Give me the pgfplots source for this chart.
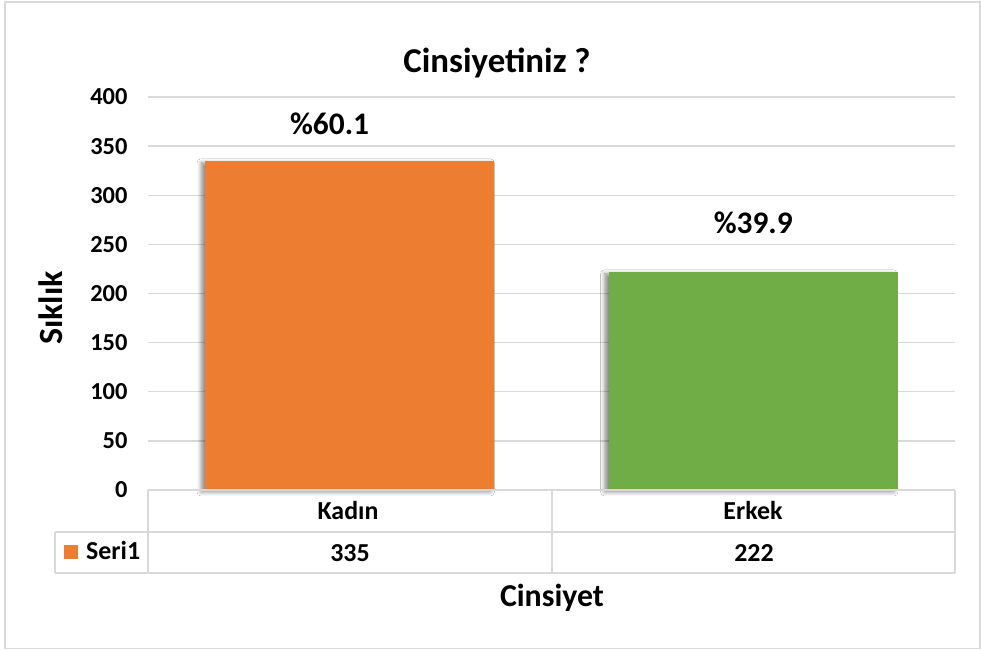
\documentclass[border=0pt]{standalone}
\usepackage{fontspec}
\setmainfont{Carlito}
\usepackage{pgfplots}
\pgfplotsset{compat=1.18}
\usetikzlibrary{shadows.blur}
\definecolor{orng}{HTML}{ED7D31}
\definecolor{grn}{HTML}{70AD47}
\definecolor{gridc}{HTML}{D9D9D9}
\begin{document}
\begin{tikzpicture}
\fill[white] (0bp,0bp) rectangle (981bp,650bp);
\draw[gridc, line width=1.5bp] (5bp,1.5bp) rectangle (980bp,648bp);
\begin{axis}[
  at={(148bp,160bp)}, anchor=south west,
  scale only axis, width=807bp, height=393bp,
  xmin=-0.5, xmax=1.5, ymin=0, ymax=400,
  ytick={0,50,...,400}, xtick=\empty,
  ymajorgrids, grid style={gridc, line width=1.3bp},
  axis line style={draw=none}, major tick length=0pt,
  tick label style={font=\bfseries\fontsize{24.5}{24.5}\selectfont},
  /pgf/number format/assume math mode=true,
  yticklabel style={anchor=east, xshift=-17bp},
  clip=false,
  ybar, bar width=0.717, bar shift=0pt,
]
\addplot[fill=orng, draw=none, bar shift=0pt, blur shadow={shadow xshift=-4bp, shadow yshift=-2bp, shadow blur steps=6, shadow opacity=45, shadow blur radius=4bp}] coordinates {(0,335)};
\addplot[fill=grn, draw=none, bar shift=0pt, blur shadow={shadow xshift=-4bp, shadow yshift=-2bp, shadow blur steps=6, shadow opacity=45, shadow blur radius=4bp}] coordinates {(1,222)};
\node[font=\bfseries\fontsize{31.5}{31.5}\selectfont] at (axis cs:-0.05,373) {\%60.1};
\node[font=\bfseries\fontsize{31.5}{31.5}\selectfont] at (axis cs:1,272) {\%39.9};
\end{axis}
% data table
\begin{scope}[gridc, line width=1.3bp]
\draw (148bp,160bp) -- (955bp,160bp);
\draw (55bp,118bp) -- (955bp,118bp);
\draw (55bp,77bp) -- (955bp,77bp);
\draw (148bp,160bp) -- (148bp,77bp);
\draw (552bp,160bp) -- (552bp,77bp);
\draw (955bp,160bp) -- (955bp,77bp);
\draw (55bp,118bp) -- (55bp,77bp);
\end{scope}
\begin{scope}[font=\bfseries\fontsize{26}{26}\selectfont]
\node at (348bp,139bp) {Kadın};
\node at (753bp,139bp) {Erkek};
\node at (350bp,97bp) {335};
\node at (754bp,97bp) {222};
\fill[orng] (64bp,91bp) rectangle (78bp,105bp);
\node[anchor=west, inner sep=0pt] at (86bp,99bp) {Seri1};
\end{scope}
\node[font=\bfseries\fontsize{35}{35}\selectfont] at (497bp,587bp) {Cinsiyetiniz ?};
\node[font=\bfseries\fontsize{32}{32}\selectfont] at (552bp,52bp) {Cinsiyet};
\node[font=\bfseries\fontsize{34}{34}\selectfont, rotate=90] at (51bp,342bp) {Sıklık};
\end{tikzpicture}
\end{document}
